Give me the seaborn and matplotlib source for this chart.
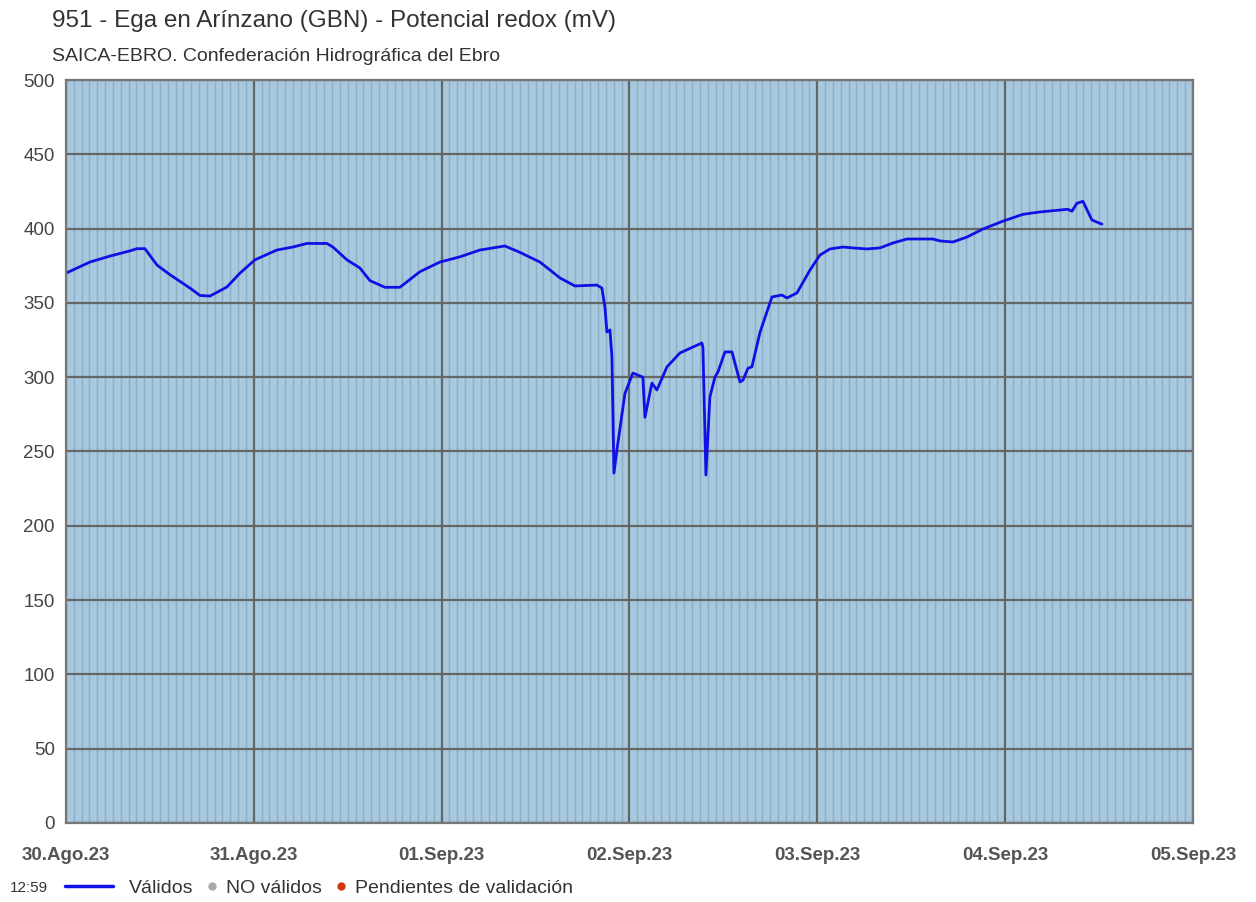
import pandas as pd
import numpy as np
import matplotlib
matplotlib.use("Agg")
import matplotlib.pyplot as plt
import matplotlib.dates as mdates
from matplotlib.lines import Line2D
import seaborn as sns

# hours since 30.Ago.23 00:00 and redox potential (mV)
hours = [0.0, 3.07, 5.62, 8.18, 9.07, 10.09, 11.63, 13.29, 15.84, 17.12, 18.40,
         20.57, 22.23, 24.15, 26.96, 29.00, 30.79, 33.35, 34.11, 35.90, 37.56,
         38.84, 40.76, 42.67, 45.23, 47.79, 50.34, 52.90, 56.09, 58.01, 60.56,
         63.12, 65.03, 67.84, 68.48, 68.87, 69.12, 69.51, 69.76, 70.02, 70.40,
         71.42, 72.44, 73.72, 73.98, 74.87, 75.51, 76.79, 78.45, 80.11, 81.26,
         81.39, 81.77, 82.28, 82.92, 83.31, 84.20, 85.10, 86.12, 86.50, 87.14,
         87.65, 88.67, 90.21, 91.48, 92.12, 93.40, 95.06, 96.34, 97.62, 99.28,
         100.56, 102.35, 104.00, 105.66, 107.45, 110.77, 111.67, 113.33, 115.12,
         117.16, 119.72, 122.28, 124.45, 127.00, 128.02, 128.54, 129.17, 129.94,
         131.09, 132.37]
redox = [370, 377.5, 381.5, 385, 386.5, 386.5, 375.5, 369, 360, 355, 354.6,
         360.7, 370, 379, 385.6, 387.6, 390, 390, 387.6, 379, 373.5,
         365, 360.5, 360.5, 371, 377.5, 381, 385.6, 388.3, 384, 377.5,
         366.8, 361.4, 362, 360, 347, 330.4, 331.8, 313.6, 235.5, 251,
         289, 302.8, 300, 273, 296, 291.4, 306.9, 316.3, 320.3, 323,
         320, 234.2, 286.7, 300, 303.5, 317, 317, 296.8, 298, 306,
         307, 330, 354, 355.3, 353.3, 356.7, 372, 382.2, 386.3, 387.6,
         387, 386.3, 387, 390.3, 393, 393, 391.7, 391, 394.3,
         399.7, 405, 409.6, 411.2, 412.5, 413, 411.7, 417, 418.4,
         405.8, 403]

start = pd.Timestamp("2023-08-30")
end = pd.Timestamp("2023-09-05")
df = pd.DataFrame({"fecha": start + pd.to_timedelta(hours, unit="h"), "valor": redox})

meses = {8: "Ago", 9: "Sep"}

sns.set_style("white")
plt.rcParams["font.family"] = ["Liberation Sans", "DejaVu Sans"]

fig = plt.figure(figsize=(12.56, 9.02), dpi=100)
ax = fig.add_axes([0.0525, 0.0876, 0.8973, 0.8237])
ax.set_facecolor("#a7c8de")

sns.lineplot(data=df, x="fecha", y="valor", ax=ax, color="#1010e6", linewidth=2)

ax.set_xlim(start, end)
ax.set_ylim(0, 500)
ax.set_yticks(range(0, 501, 50))
ax.xaxis.set_major_locator(mdates.DayLocator())
ax.xaxis.set_minor_locator(mdates.HourLocator())
ax.xaxis.set_major_formatter(plt.FuncFormatter(
    lambda v, p: (lambda d: f"{d.day:02d}.{meses[d.month]}.{d:%y}")(mdates.num2date(v))))

ax.grid(which="minor", axis="x", color="#8eaec4", linewidth=1.0)
ax.grid(which="major", axis="both", color="#666666", linewidth=1.6)
ax.set_axisbelow(True)
for s in ax.spines.values():
    s.set_color("#777777")
    s.set_linewidth(1.6)

ax.tick_params(axis="both", which="both", length=0)
ax.tick_params(axis="y", labelsize=13.5, labelcolor="#444444", pad=8)
ax.tick_params(axis="x", labelsize=13.5, labelcolor="#555555", pad=17)
for lbl in ax.get_xticklabels():
    lbl.set_fontweight("bold")
ax.set_xlabel("")
ax.set_ylabel("")

fig.text(0.0415, 0.977, "951 - Ega en Arínzano (GBN) - Potencial redox (mV)",
         fontsize=17.5, color="#333333", va="center")
fig.text(0.0415, 0.937, "SAICA-EBRO. Confederación Hidrográfica del Ebro",
         fontsize=14, color="#333333", va="center")

fig.text(0.008, 0.0155, "12:59", fontsize=11, color="#333333", va="center")
fig.legend([Line2D([], [], color="#1010e6", linewidth=2.5)], ["Válidos"],
           loc="center left", bbox_to_anchor=(0.0518, 0.0155), frameon=False,
           fontsize=14, handlelength=2.45, handletextpad=0.85, borderpad=0,
           borderaxespad=0, labelcolor="#333333")
fig.legend([Line2D([], [], color="#aaaaaa", marker="o", linestyle="", markersize=5),
            Line2D([], [], color="#d03a10", marker="o", linestyle="", markersize=5)],
           ["NO válidos", "Pendientes de validación"],
           loc="center left", bbox_to_anchor=(0.1645, 0.0155), ncol=2, frameon=False,
           fontsize=14, handlelength=0.6, handletextpad=0.4, columnspacing=0.7,
           borderpad=0, borderaxespad=0, labelcolor="#333333")

fig.savefig("out.png", dpi=100)
